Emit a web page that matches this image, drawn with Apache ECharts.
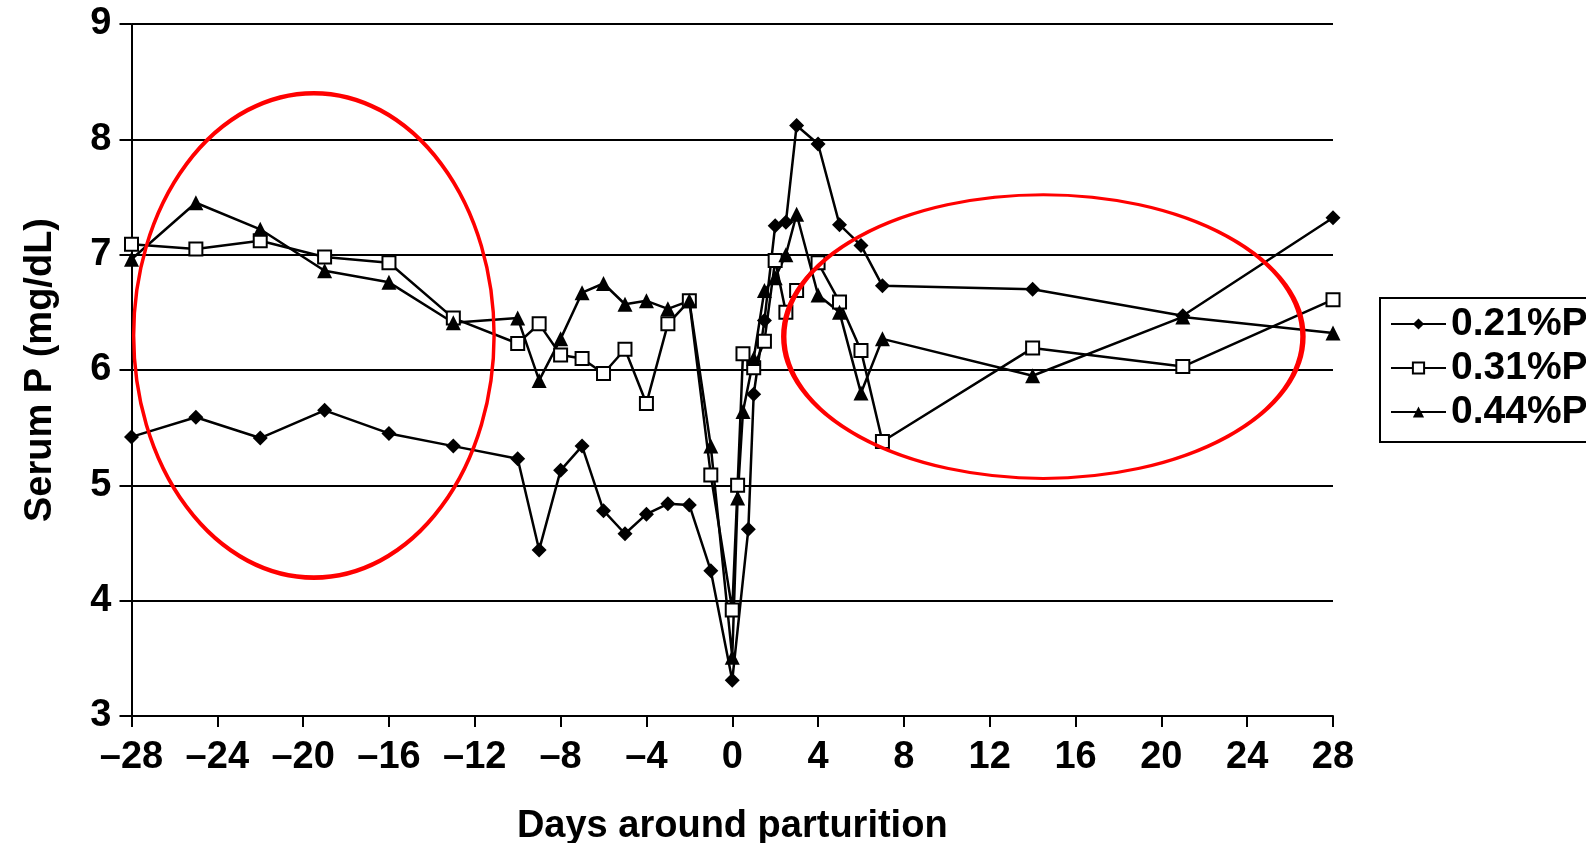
<!DOCTYPE html>
<html>
<head>
<meta charset="utf-8">
<script src="https://cdn.jsdelivr.net/npm/echarts@6/dist/echarts.min.js"></script>
<style>
  html, body { margin: 0; padding: 0; background: #fff; }
  #main { width: 1586px; height: 843px; }
</style>
</head>
<body>
<div id="main"></div>
<script>
// days around parturition for each diet group
const daysLow = [-28, -25, -22, -19, -16, -13, -10, -9, -8, -7, -6, -5, -4, -3, -2, -1, 0, 0.75, 1, 1.5, 2, 2.5, 3, 4, 5, 6, 7, 14, 21, 28];
const daysMid = [-28, -25, -22, -19, -16, -13, -10, -9, -8, -7, -6, -5, -4, -3, -2, -1, 0, 0.25, 0.5, 1, 1.5, 2, 2.5, 3, 4, 5, 6, 7, 14, 21, 28];
const daysHigh = [-28, -25, -22, -19, -16, -13, -10, -9, -8, -7, -6, -5, -4, -3, -2, -1, 0, 0.25, 0.5, 1, 1.5, 2, 2.5, 3, 4, 5, 6, 7, 14, 21, 28];

// serum P, mg/dL
const serumLow = [5.42, 5.59, 5.41, 5.65, 5.45, 5.34, 5.23, 4.44, 5.13, 5.34, 4.78, 4.58, 4.75, 4.84, 4.83, 4.26, 3.31, 4.62, 5.79, 6.43, 7.25, 7.28, 8.12, 7.96, 7.26, 7.08, 6.73, 6.70, 6.47, 7.32];
const serumMid = [7.09, 7.05, 7.12, 6.98, 6.93, 6.45, 6.23, 6.40, 6.13, 6.10, 5.97, 6.18, 5.71, 6.40, 6.60, 5.09, 3.92, 5.00, 6.14, 6.02, 6.25, 6.95, 6.50, 6.69, 6.93, 6.59, 6.17, 5.38, 6.19, 6.03, 6.61];
const serumHigh = [6.96, 7.45, 7.22, 6.86, 6.76, 6.41, 6.45, 5.91, 6.27, 6.67, 6.75, 6.57, 6.60, 6.53, 6.60, 5.34, 3.51, 4.89, 5.64, 6.10, 6.69, 6.80, 7.00, 7.35, 6.65, 6.50, 5.80, 6.27, 5.95, 6.46, 6.32];

const groupNames = ['0.21%P', '0.31%P', '0.44%P'];

// red highlight ellipses: [centre day, centre value, half width (days), half height (mg/dL)]
const highlights = [
  [-19.5, 6.30, 8.4, 2.1],
  [14.5, 6.29, 12.1, 1.23]
];

const font = "'Liberation Sans', Arial, sans-serif";

function pairs(xs, ys) {
  return xs.map((x, i) => [x, ys[i]]);
}

const chart = echarts.init(document.getElementById('main'));

function makeSeries(name, xs, ys, symbol, size, fill) {
  return {
    name: name,
    type: 'line',
    data: pairs(xs, ys),
    symbol: symbol,
    symbolSize: size,
    showAllSymbol: true,
    animation: false,
    lineStyle: { color: '#000', width: 2.5 },
    itemStyle: { color: fill, borderColor: '#000', borderWidth: fill === '#fff' ? 2 : 0 },
    emphasis: { disabled: true }
  };
}

chart.setOption({
  animation: false,
  grid: { left: 131.5, right: 253, top: 24, bottom: 127, outerBoundsMode: 'none', containLabel: false },
  legend: {
    orient: 'vertical',
    left: 1380,
    top: 298,
    itemWidth: 55,
    itemHeight: 14,
    itemGap: 4,
    padding: [6, 10, 10, 10],
    borderColor: '#000',
    borderWidth: 2,
    textStyle: { fontFamily: font, fontWeight: 'bold', fontSize: 39, color: '#000', lineHeight: 40 },
    data: groupNames
  },
  xAxis: {
    type: 'value',
    min: -28,
    max: 28,
    interval: 4,
    name: 'Days around parturition',
    nameLocation: 'middle',
    nameGap: 92,
    nameTextStyle: { fontFamily: font, fontWeight: 'bold', fontSize: 38, color: '#000' },
    axisLine: { onZero: false, lineStyle: { color: '#000', width: 2 } },
    axisTick: { show: true, length: 11, lineStyle: { color: '#000', width: 2 } },
    axisLabel: {
      margin: 23,
      fontFamily: font, fontWeight: 'bold', fontSize: 38, color: '#000',
      formatter: v => v < 0 ? '\u2013' + Math.abs(v) : String(v)
    },
    splitLine: { show: false }
  },
  yAxis: {
    type: 'value',
    min: 3,
    max: 9,
    interval: 1,
    name: 'Serum P (mg/dL)',
    nameLocation: 'middle',
    nameRotate: 90,
    nameGap: 72,
    nameTextStyle: { fontFamily: font, fontWeight: 'bold', fontSize: 38, color: '#000' },
    axisLine: { show: true, onZero: false, lineStyle: { color: '#000', width: 2 } },
    axisTick: { show: true, length: 12, lineStyle: { color: '#000', width: 2 } },
    axisLabel: { margin: 20, fontFamily: font, fontWeight: 'bold', fontSize: 38, color: '#000' },
    splitLine: { show: true, lineStyle: { color: '#000', width: 2 } }
  },
  series: [
    makeSeries(groupNames[0], daysLow, serumLow, 'diamond', 15, '#000'),
    makeSeries(groupNames[1], daysMid, serumMid, 'rect', 13, '#fff'),
    makeSeries(groupNames[2], daysHigh, serumHigh, 'triangle', 15, '#000')
  ]
});

// place the red ellipses through the axis scales
const R = 100;
const rings = highlights.map(h => {
  const c = chart.convertToPixel({ gridIndex: 0 }, [h[0], h[1]]);
  const e = chart.convertToPixel({ gridIndex: 0 }, [h[0] + h[2], h[1] + h[3]]);
  return {
    type: 'circle',
    silent: true,
    z: 100,
    x: c[0],
    y: c[1],
    scaleX: Math.abs(e[0] - c[0]) / R,
    scaleY: Math.abs(e[1] - c[1]) / R,
    shape: { cx: 0, cy: 0, r: R },
    style: { fill: 'none', stroke: '#f00', lineWidth: 4, strokeNoScale: true }
  };
});
chart.setOption({ graphic: rings });
</script>
</body>
</html>
